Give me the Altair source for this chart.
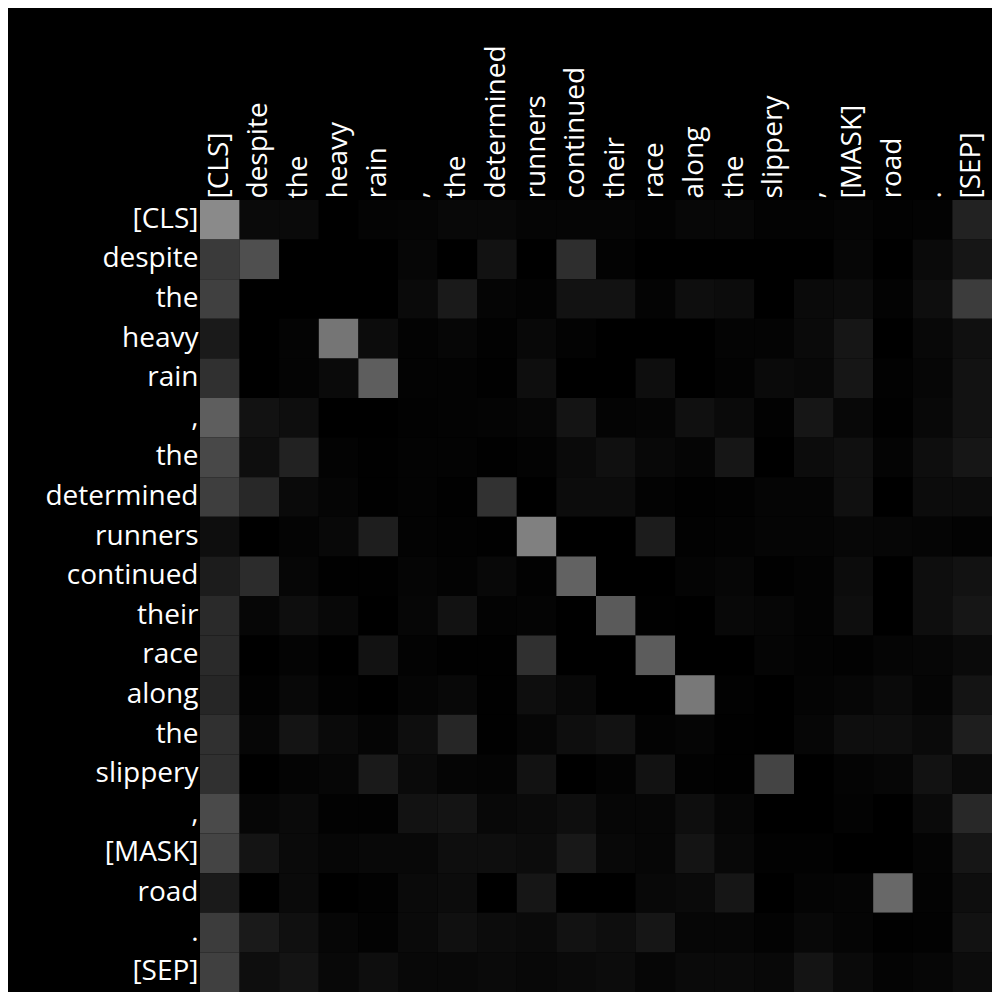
import json
import altair as alt
import pandas as pd

tokens = ["[CLS]", "despite", "the", "heavy", "rain", ",", "the", "determined",
          "runners", "continued", "their", "race", "along", "the", "slippery",
          ",", "[MASK]", "road", ".", "[SEP]"]

# attention weights (row = query token, column = key token), read as grey level / 255
gray = [
    [138, 10, 10, 0, 4, 5, 8, 8, 5, 5, 5, 3, 7, 7, 3, 3, 5, 2, 3, 34],
    [58, 79, 0, 0, 0, 6, 0, 18, 0, 46, 3, 0, 0, 0, 0, 0, 6, 0, 10, 22],
    [64, 0, 0, 0, 0, 10, 26, 5, 3, 18, 18, 4, 14, 12, 0, 10, 12, 3, 14, 60],
    [26, 0, 4, 117, 12, 3, 6, 2, 8, 3, 0, 0, 0, 4, 4, 10, 22, 0, 8, 16],
    [48, 0, 4, 10, 94, 3, 3, 1, 14, 0, 0, 14, 0, 3, 10, 8, 22, 2, 6, 18],
    [94, 18, 14, 0, 0, 2, 3, 4, 6, 20, 4, 5, 16, 10, 2, 22, 8, 1, 8, 18],
    [72, 14, 34, 3, 1, 3, 3, 1, 3, 10, 16, 8, 5, 22, 0, 12, 16, 4, 14, 22],
    [62, 40, 10, 5, 1, 3, 1, 50, 0, 12, 12, 3, 1, 2, 5, 5, 16, 0, 12, 12],
    [14, 0, 4, 8, 30, 3, 2, 1, 128, 0, 0, 28, 2, 3, 5, 5, 7, 6, 5, 3],
    [28, 44, 6, 1, 1, 5, 3, 8, 2, 98, 0, 0, 4, 6, 1, 3, 12, 0, 14, 18],
    [42, 6, 14, 8, 0, 6, 18, 3, 4, 0, 90, 1, 0, 8, 6, 3, 14, 0, 14, 22],
    [42, 0, 4, 0, 18, 3, 1, 1, 48, 0, 0, 92, 0, 0, 5, 3, 2, 5, 6, 10],
    [38, 2, 8, 2, 0, 5, 8, 1, 14, 8, 0, 0, 120, 2, 0, 4, 6, 10, 5, 20],
    [48, 6, 20, 10, 5, 14, 38, 1, 6, 14, 18, 3, 5, 1, 0, 6, 14, 14, 10, 30],
    [48, 0, 4, 6, 26, 10, 5, 4, 18, 0, 3, 18, 2, 1, 68, 0, 4, 6, 18, 10],
    [74, 6, 10, 2, 2, 18, 20, 8, 10, 14, 6, 6, 14, 6, 0, 0, 3, 0, 10, 40],
    [68, 20, 10, 6, 8, 8, 14, 14, 12, 24, 8, 6, 20, 8, 2, 2, 0, 0, 4, 22],
    [26, 0, 10, 0, 2, 10, 12, 0, 22, 0, 0, 8, 10, 22, 0, 4, 5, 104, 3, 14],
    [60, 26, 16, 6, 3, 10, 16, 12, 10, 18, 14, 22, 6, 6, 3, 8, 5, 1, 2, 18],
    [64, 14, 20, 8, 14, 8, 8, 10, 8, 10, 12, 6, 10, 10, 8, 20, 10, 4, 6, 12],
]

rows = []
for i, r in enumerate(gray):
    for j, g in enumerate(r):
        rows.append({"row": i, "col": j, "weight": round(g / 255, 4)})
df = pd.DataFrame(rows)

label_expr = json.dumps(tokens) + "[datum.value]"
FONT = "Open Sans"

chart = alt.Chart(df).mark_rect(strokeWidth=0).encode(
    x=alt.X("col:O", title=None,
            axis=alt.Axis(orient="top", labelExpr=label_expr, labelAngle=-90,
                          labelAlign="left", labelBaseline="middle",
                          labelPadding=2, ticks=False, domain=False,
                          labelColor="white", labelFontSize=28, labelFont=FONT,
                          labelOverlap=False, labelLimit=0)),
    y=alt.Y("row:O", title=None,
            axis=alt.Axis(labelExpr=label_expr, labelPadding=2, ticks=False,
                          domain=False, labelColor="white", labelFontSize=28,
                          labelFont=FONT, labelOverlap=False, labelLimit=0)),
    color=alt.Color("weight:Q", legend=None,
                    scale=alt.Scale(domain=[0, 1], range=["#000000", "#ffffff"],
                                    interpolate="rgb")),
).properties(
    width=792, height=792,
    autosize=alt.AutoSizeParams(type="none"),
    padding={"left": 192, "top": 192, "right": 0, "bottom": 0},
    background="black",
).configure_view(stroke=None).configure_scale(bandPaddingInner=0, bandPaddingOuter=0)

chart.save("out.html", embed_options={"renderer": "svg", "actions": False})
